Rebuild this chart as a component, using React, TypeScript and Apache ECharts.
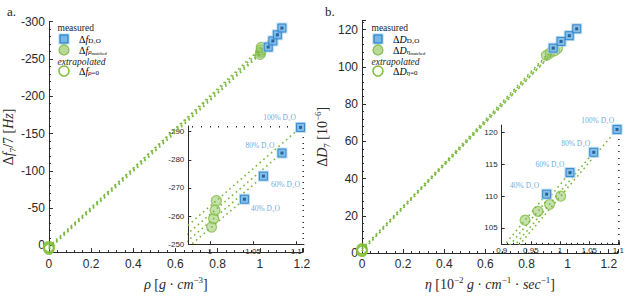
import React, { useEffect, useRef } from "react";
import * as echarts from "echarts";

// ---------- data ----------
const mixLabels = ["40% D₂O", "60% D₂O", "80% D₂O", "100% D₂O"];

// (a) density ρ [g·cm^-3] vs Δf7/7 [Hz]
const rhoD2O = [1.04, 1.062, 1.0835, 1.105];
const dfD2O = [-266.0, -274.2, -282.4, -291.5];
const rhoMatched = [1.002, 1.0043, 1.006, 1.0075];
const dfMatched = [-256.1, -259.1, -262.1, -265.5];
const rhoZero = [0, 0, 0, 0];
const dfZero = [5, 4, 1.5, 3];

// (b) viscosity η vs ΔD7 — main panel
const etaD2OMain = [0.93, 0.968, 1.008, 1.044];
const dD2OMain = [110.1, 113.7, 116.8, 120.5];
const etaMatchedMain = [0.897, 0.915, 0.937, 0.951];
const dMatchedMain = [106.2, 107.6, 108.7, 110.0];
// (b) inset
const etaD2OInset = [0.977, 1.017, 1.0577, 1.0976];
const dD2OInset = [110.3, 113.7, 116.9, 120.5];
const etaMatchedInset = [0.94, 0.962, 0.982, 1.001];
const dMatchedInset = [106.2, 107.6, 108.7, 110.0];
const etaZero = [0, 0, 0, 0];
const dZero = [2, 1, 2.3, 1.2];

// tick labels of the insets
const insetATicksX = [1, 1.05, 1.1];
const insetATicksY = [-290, -280, -270, -260, -250];
const insetBTicksY = [105, 110, 115, 120];

// minor tick positions of the insets
const range = (a: number, b: number, step: number) => {
  const out: number[] = [];
  const n = Math.round((b - a) / step);
  for (let k = 0; k <= n; k++) out.push(+(a + k * step).toFixed(4));
  return out;
};
const insetAMinorX = range(0.98, 1.1, 0.01);
const insetAMinorY = range(-290, -250, 2);
const insetBMinorY = range(103, 121, 1);

// ---------- styling ----------
const SANS = "'Liberation Sans', Arial, Helvetica, sans-serif";
const SERIF = "'Liberation Serif', 'DejaVu Serif', 'Times New Roman', serif";
const AX = "#2a2a2a";
const GREEN_LINE = "#79b83a";
const LABEL_BLUE = "#3f92d4";

const leftLabelOffsets = [
  [21, 9],
  [22, 8],
  [-22, -8],
  [-21, -9.5],
];
const rightLabelOffsets = [
  [-22, -8.3],
  [-20, -8],
  [-18, -8.6],
  [-19.3, -8.6],
];

const pts = (xs: number[], ys: number[]) => xs.map((x, i) => [x, ys[i]]);

function seriesFor(
  ax: number,
  sqX: number[],
  sqY: number[],
  cX: number[],
  cY: number[],
  zX: number[],
  zY: number[],
  labelOffsets?: number[][]
) {
  const s: any[] = [];
  for (let i = 0; i < sqX.length; i++) {
    s.push({
      type: "line",
      xAxisIndex: ax,
      yAxisIndex: ax,
      data: [
        [zX[i], zY[i]],
        [cX[i], cY[i]],
        [sqX[i], sqY[i]],
      ],
      showSymbol: false,
      symbol: "none",
      silent: true,
      z: 3,
      clip: true,
      lineStyle: { color: GREEN_LINE, width: 1.6, type: [1.6, 3.4] },
    });
  }
  s.push({
    type: "scatter",
    xAxisIndex: ax,
    yAxisIndex: ax,
    clip: false,
    data: pts(zX, zY),
    symbol: "circle",
    symbolSize: 10,
    z: 2,
    itemStyle: { color: "rgba(255,255,255,0)", borderColor: "#86c03f", borderWidth: 1.6 },
  });
  s.push({
    type: "scatter",
    xAxisIndex: ax,
    yAxisIndex: ax,
    clip: false,
    data: pts(cX, cY),
    symbol: "circle",
    symbolSize: 10,
    z: 2,
    itemStyle: { color: "rgba(160,205,115,0.75)", borderColor: "#84bb4c", borderWidth: 1.2 },
  });
  s.push({
    type: "scatter",
    xAxisIndex: ax,
    yAxisIndex: ax,
    clip: false,
    symbol: "rect",
    symbolSize: 11,
    z: 4,
    itemStyle: { color: "#a9d2f1" },
    data: pts(sqX, sqY).map((v, i) => ({
      value: v,
      label: labelOffsets
        ? {
            show: true,
            position: "inside",
            offset: labelOffsets[i],
            formatter: mixLabels[i],
            color: LABEL_BLUE,
            fontSize: 7.5,
            fontFamily: SERIF,
          }
        : { show: false },
    })),
  });
  s.push({
    type: "scatter",
    xAxisIndex: ax,
    yAxisIndex: ax,
    clip: false,
    symbol: "rect",
    symbolSize: 8,
    z: 5,
    itemStyle: { color: "#78b6e6", borderColor: "#1f78c0", borderWidth: 1 },
    data: pts(sqX, sqY),
  });
  s.push({
    type: "scatter",
    xAxisIndex: ax,
    yAxisIndex: ax,
    clip: false,
    symbol: "rect",
    symbolSize: 3,
    z: 6,
    itemStyle: { color: "#0c4c88" },
    data: pts(sqX, sqY),
  });
  return s;
}

const axisBase = (fontSize: number, margin: number, tickLen: number) => ({
  type: "value",
  axisLine: { show: true, onZero: false, lineStyle: { color: AX, width: 1 } },
  axisTick: { show: true, inside: true, length: tickLen, lineStyle: { color: AX } },
  minorTick: { show: true, splitNumber: 5, length: tickLen / 2, lineStyle: { color: AX } },
  splitLine: { show: false },
  minorSplitLine: { show: false },
  axisLabel: { color: AX, fontSize, fontFamily: SANS, margin },
});

// an extra axis that only draws short minor ticks at given values
const minorAxis = (gridIndex: number, min: number, max: number, values: number[], inverse = false) => ({
  type: "value",
  gridIndex,
  min,
  max,
  inverse,
  axisLine: { show: false, onZero: false },
  axisLabel: { show: false, customValues: values },
  axisTick: { show: true, inside: true, length: 1.5, customValues: values, lineStyle: { color: AX } },
  minorTick: { show: false },
  splitLine: { show: false },
});

const nameRich = {
  i: { fontFamily: SERIF, fontStyle: "italic", fontSize: 14, color: AX, lineHeight: 18 },
  n: { fontFamily: SERIF, fontSize: 14, color: AX, lineHeight: 18 },
  sup: { fontFamily: SERIF, fontSize: 9, color: AX, lineHeight: 9, verticalAlign: "top" },
  sub: { fontFamily: SERIF, fontSize: 9, color: AX, lineHeight: 9, verticalAlign: "bottom" },
};

const legRich = {
  d: { fontFamily: SERIF, fontSize: 10, color: "#222", lineHeight: 10 },
  i: { fontFamily: SERIF, fontStyle: "italic", fontSize: 10, color: "#222", lineHeight: 10 },
  s: { fontFamily: SERIF, fontSize: 7, color: "#222", lineHeight: 6, verticalAlign: "bottom" },
  si: { fontFamily: SERIF, fontStyle: "italic", fontSize: 7, color: "#222", lineHeight: 6, verticalAlign: "bottom" },
  ss: { fontFamily: SERIF, fontSize: 4.5, color: "#222", lineHeight: 4, verticalAlign: "bottom" },
};

function legend(x0: number, sym: string, sub: string) {
  const hx = x0;
  const cx = x0 + 6.5;
  const tx = x0 + 21.5;
  const txt = (y: number, text: string) => ({
    type: "text",
    x: tx,
    y,
    style: {
      text,
      rich: legRich,
      align: "left",
      verticalAlign: "middle",
      textAlign: "left",
      textVerticalAlign: "middle",
    },
  });
  const head = (y: number, text: string, italic: boolean) => ({
    type: "text",
    x: hx,
    y,
    style: {
      text,
      font: `${italic ? "italic " : ""}9.5px ${SERIF}`,
      fill: "#222",
      align: "left",
      verticalAlign: "middle",
      textAlign: "left",
      textVerticalAlign: "middle",
    },
  });
  return [
    head(28, "measured", false),
    { type: "rect", shape: { x: cx - 5.5, y: 39 - 5.5, width: 11, height: 11 }, style: { fill: "#a9d2f1" } },
    {
      type: "rect",
      shape: { x: cx - 4, y: 39 - 4, width: 8, height: 8 },
      style: { fill: "#78b6e6", stroke: "#1f78c0", lineWidth: 1 },
    },
    txt(39, `{d|Δ}{i|${sym}}{s|D₂O}`),
    {
      type: "circle",
      shape: { cx, cy: 50, r: 5 },
      style: { fill: "rgba(160,205,115,0.75)", stroke: "#84bb4c", lineWidth: 1.2 },
    },
    txt(50.5, `{d|Δ}{i|${sym}}{si|${sub}}{ss|matched}`),
    head(61.5, "extrapolated", true),
    {
      type: "circle",
      shape: { cx, cy: 71, r: 5 },
      style: { fill: "none", stroke: "#86c03f", lineWidth: 1.6 },
    },
    txt(71, `{d|Δ}{i|${sym}}{si|${sub}}{s|=0}`),
  ];
}

function buildOption() {
  const xMainA: any = {
    ...axisBase(12, 6, 4),
    gridIndex: 0,
    min: 0,
    max: 1.205,
    interval: 0.2,
    name: "{i|ρ} {n|[}{i|g} {n|·} {i|cm}{sup|−3}{n|]}",
    nameLocation: "middle",
    nameGap: 20,
    nameTextStyle: { rich: nameRich },
  };
  const yMainA: any = {
    ...axisBase(12, 4, 4),
    gridIndex: 0,
    inverse: true,
    min: -300,
    max: 9,
    interval: 50,
    name: "{n|Δ}{i|f}{sub|7}{n|/7 [}{i|Hz}{n|]}",
    nameLocation: "middle",
    nameGap: 31,
    nameTextStyle: { rich: nameRich },
  };
  const xInsetA: any = { ...axisBase(8, 3, 3), gridIndex: 1, min: 0.975, max: 1.109 };
  xInsetA.axisLabel = { ...xInsetA.axisLabel, customValues: insetATicksX };
  xInsetA.axisTick = { ...xInsetA.axisTick, customValues: insetATicksX };
  xInsetA.minorTick = { show: false };
  const yInsetA: any = { ...axisBase(8, 4, 3), gridIndex: 1, inverse: true, min: -292, max: -250 };
  yInsetA.axisLabel = { ...yInsetA.axisLabel, customValues: insetATicksY };
  yInsetA.axisTick = { ...yInsetA.axisTick, customValues: insetATicksY };
  yInsetA.minorTick = { show: false };

  const xMainB: any = {
    ...axisBase(12, 5, 4),
    gridIndex: 2,
    min: 0,
    max: 1.245,
    interval: 0.2,
    name: "{i|η} {n|[10}{sup|−2}{n| }{i|g} {n|·} {i|cm}{sup|−1}{n| · }{i|sec}{sup|−1}{n|]}",
    nameLocation: "middle",
    nameGap: 20,
    nameTextStyle: { rich: nameRich },
  };
  const yMainB: any = {
    ...axisBase(12, 4, 4),
    gridIndex: 2,
    min: 0,
    max: 125,
    interval: 20,
    name: "{n|Δ}{i|D}{sub|7}{n| [10}{sup|−6}{n|]}",
    nameLocation: "middle",
    nameGap: 31,
    nameTextStyle: { rich: nameRich },
  };
  const xInsetB: any = { ...axisBase(8, 2, 3), gridIndex: 3, min: 0.9, max: 1.102, interval: 0.05 };
  xInsetB.minorTick = { show: true, splitNumber: 5, length: 1.5, lineStyle: { color: AX } };
  const yInsetB: any = { ...axisBase(8, 4, 3), gridIndex: 3, min: 102.4, max: 121.2 };
  yInsetB.axisLabel = { ...yInsetB.axisLabel, customValues: insetBTicksY };
  yInsetB.axisTick = { ...yInsetB.axisTick, customValues: insetBTicksY };
  yInsetB.minorTick = { show: false };

  return {
    animation: false,
    backgroundColor: "#ffffff",
    grid: [
      { left: 47, top: 21.7, width: 256, height: 233.3, containLabel: false },
      { left: 188.3, top: 126, width: 115.7, height: 118.3, containLabel: false },
      { left: 362, top: 20.4, width: 256, height: 236.3, containLabel: false },
      { left: 501.7, top: 125, width: 117.9, height: 119.3, containLabel: false },
    ],
    xAxis: [
      xMainA,
      xInsetA,
      xMainB,
      xInsetB,
      minorAxis(1, 0.975, 1.109, insetAMinorX),
    ],
    yAxis: [
      yMainA,
      yInsetA,
      yMainB,
      yInsetB,
      minorAxis(1, -292, -250, insetAMinorY, true),
      minorAxis(3, 102.4, 121.2, insetBMinorY),
    ],
    series: [
      ...seriesFor(0, rhoD2O, dfD2O, rhoMatched, dfMatched, rhoZero, dfZero),
      ...seriesFor(1, rhoD2O, dfD2O, rhoMatched, dfMatched, rhoZero, dfZero, leftLabelOffsets),
      ...seriesFor(2, etaD2OMain, dD2OMain, etaMatchedMain, dMatchedMain, etaZero, dZero),
      ...seriesFor(3, etaD2OInset, dD2OInset, etaMatchedInset, dMatchedInset, etaZero, dZero, rightLabelOffsets),
    ],
    graphic: [
      {
        type: "text",
        x: 7,
        y: 11,
        style: { text: "a.", font: `13px ${SERIF}`, fill: "#222", textVerticalAlign: "middle", verticalAlign: "middle" },
      },
      {
        type: "text",
        x: 325,
        y: 11,
        style: { text: "b.", font: `13px ${SERIF}`, fill: "#222", textVerticalAlign: "middle", verticalAlign: "middle" },
      },
      ...legend(57.5, "f", "ρ"),
      ...legend(371.5, "D", "η"),
    ],
  };
}

export default function App() {
  const ref = useRef<HTMLDivElement>(null);
  useEffect(() => {
    document.body.style.margin = "0";
    if (!ref.current) return;
    const chart = echarts.init(ref.current, undefined, { renderer: "svg" });
    chart.setOption(buildOption() as any);
    return () => chart.dispose();
  }, []);
  return <div ref={ref} style={{ width: 631, height: 296 }} />;
}
